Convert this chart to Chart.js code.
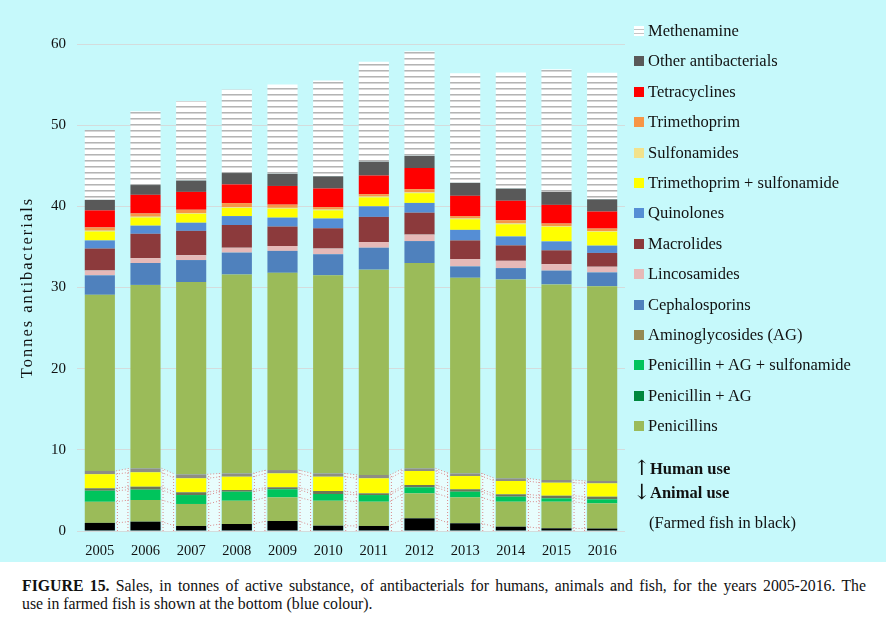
<!DOCTYPE html>
<html>
<head>
<meta charset="utf-8">
<script src="https://cdn.jsdelivr.net/npm/chart.js@4/dist/chart.umd.min.js"></script>
<style>
  html, body { margin: 0; padding: 0; background: #fff; }
  #wrap { position: relative; width: 886px; height: 628px; overflow: hidden; font-family: "Liberation Serif", "Times New Roman", serif; color: #111; }
  #panel { position: absolute; left: 0; top: 0; width: 886px; height: 562px; background: #c6f9fb; }
  #chart { position: absolute; left: 0; top: 0; }
  #legend { position: absolute; left: 634px; top: 0; }
  .item { position: absolute; left: 0; white-space: nowrap; font-size: 16.5px; line-height: 18px; }
  .box { display: inline-block; width: 10px; height: 10px; margin-right: 4px; vertical-align: 0px; }
  .note { position: absolute; white-space: nowrap; font-size: 16.5px; line-height: 18px; }
  .arrow { font-size: 21px; font-family: "DejaVu Serif", serif; }
  #caption { position: absolute; left: 22px; top: 577px; width: 844px; font-size: 15.8px; line-height: 18px; }
  #caption .l1 { display: block; text-align: justify; text-align-last: justify; white-space: nowrap; }
</style>
</head>
<body>
<div id="wrap">
  <div id="panel"></div>
  <canvas id="chart" width="886" height="562"></canvas>
  <div id="legend"></div>
  <div id="caption"><span class="l1"><b>FIGURE 15.</b> Sales, in tonnes of active substance, of antibacterials for humans, animals and fish, for the years 2005-2016. The</span>use in farmed fish is shown at the bottom (blue colour).</div>
</div>
<script>
var years = ["2005", "2006", "2007", "2008", "2009", "2010", "2011", "2012", "2013", "2014", "2015", "2016"];
var yTicks = [0, 10, 20, 30, 40, 50, 60];
var yTitle = "Tonnes antibacterials";

// animal use (bottom of each bar)
var fishFarmed        = [1.00, 1.15, 0.62, 0.86, 1.23, 0.65, 0.62, 1.56, 0.95, 0.53, 0.33, 0.30];
var animalPenicillins = [2.60, 2.67, 2.71, 2.87, 2.92, 3.08, 2.99, 3.08, 3.20, 3.08, 3.28, 3.11];
var animalPenAGSulf   = [1.36, 1.27, 1.10, 1.11, 0.99, 0.83, 0.82, 0.74, 0.69, 0.62, 0.41, 0.49];
var animalAG          = [0.30, 0.37, 0.34, 0.21, 0.24, 0.37, 0.21, 0.29, 0.30, 0.29, 0.33, 0.33];
var animalTrimSulf    = [1.74, 1.77, 1.72, 1.64, 1.72, 1.76, 1.85, 1.72, 1.63, 1.64, 1.60, 1.64];
var animalOther       = [0.40, 0.49, 0.49, 0.41, 0.41, 0.41, 0.41, 0.33, 0.33, 0.33, 0.33, 0.29];

// human use (stacked above)
var humanPenicillins  = [21.7, 22.6, 23.7, 24.5, 24.3, 24.4, 25.3, 25.3, 24.1, 24.5, 24.1, 24.0];
var cephalosporins    = [2.4, 2.7, 2.7, 2.7, 2.7, 2.6, 2.7, 2.7, 1.4, 1.4, 1.7, 1.7];
var lincosamides      = [0.6, 0.6, 0.6, 0.6, 0.6, 0.7, 0.7, 0.8, 0.9, 0.9, 0.8, 0.7];
var macrolides        = [2.7, 3.0, 3.0, 2.8, 2.4, 2.5, 3.1, 2.7, 2.3, 1.9, 1.7, 1.7];
var quinolones        = [1.0, 1.0, 1.0, 1.1, 1.1, 1.2, 1.3, 1.2, 1.3, 1.1, 1.1, 0.9];
var trimSulf          = [1.1, 1.0, 1.1, 1.0, 1.1, 1.0, 1.1, 1.2, 1.3, 1.5, 1.8, 1.7];
var sulfonamides      = [0.1, 0.1, 0.1, 0.1, 0.1, 0.1, 0.1, 0.1, 0.1, 0.1, 0.1, 0.1];
var trimethoprim      = [0.4, 0.4, 0.4, 0.5, 0.4, 0.3, 0.3, 0.4, 0.3, 0.4, 0.3, 0.3];
var tetracyclines     = [2.1, 2.3, 2.2, 2.3, 2.3, 2.3, 2.3, 2.6, 2.5, 2.4, 2.3, 2.1];
var otherAntibact     = [1.3, 1.2, 1.4, 1.4, 1.5, 1.5, 1.7, 1.5, 1.6, 1.5, 1.6, 1.5];
var methenamine       = [8.6, 9.1, 9.8, 10.3, 11.0, 11.8, 12.3, 12.9, 13.5, 14.3, 15.1, 15.6];

var col = {
  fish: "#000000", pen: "#9bbb59", penAG: "#00873d", penAGSulf: "#00c45c", ag: "#948a54",
  ceph: "#4f81bd", linc: "#e6b9b8", macro: "#8c3a3c", quin: "#558ed5", trimSulf: "#ffff00",
  sulf: "#f2e28c", trim: "#f79646", tetra: "#ff0000", other: "#595959"
};

function stripes() {
  var c = document.createElement("canvas");
  c.width = 4; c.height = 6;
  var g = c.getContext("2d");
  g.fillStyle = "#ffffff"; g.fillRect(0, 0, 4, 6);
  g.fillStyle = "#b4b4b4"; g.fillRect(0, 4, 4, 1);
  g.fillStyle = "#d6d6d6"; g.fillRect(0, 5, 4, 1);
  return c;
}
var methPattern = document.getElementById("chart").getContext("2d").createPattern(stripes(), "repeat");

function ds(label, data, color, animal) {
  return { label: label, data: data, backgroundColor: color, borderWidth: 0, stack: "s", animal: !!animal };
}

var datasets = [
  ds("Farmed fish", fishFarmed, col.fish, true),
  ds("Penicillins (animal)", animalPenicillins, col.pen, true),
  ds("Penicillin + AG + sulfonamide", animalPenAGSulf, col.penAGSulf, true),
  ds("Aminoglycosides (AG)", animalAG, "#6f7656", true),
  ds("Trimethoprim + sulfonamide (animal)", animalTrimSulf, col.trimSulf, true),
  ds("Other antibacterials (animal)", animalOther, "#8e8e84", true),
  ds("Penicillins", humanPenicillins, col.pen),
  ds("Cephalosporins", cephalosporins, col.ceph),
  ds("Lincosamides", lincosamides, col.linc),
  ds("Macrolides", macrolides, col.macro),
  ds("Quinolones", quinolones, col.quin),
  ds("Trimethoprim + sulfonamide", trimSulf, col.trimSulf),
  ds("Sulfonamides", sulfonamides, col.sulf),
  ds("Trimethoprim", trimethoprim, col.trim),
  ds("Tetracyclines", tetracyclines, col.tetra),
  ds("Other antibacterials", otherAntibact, col.other),
  ds("Methenamine", methenamine, methPattern)
];

// dotted "series lines" boxes between bars in the animal part
var seriesLines = {
  id: "seriesLines",
  beforeDatasetsDraw: function (chart) {
    var ctx = chart.ctx;
    var animalIdx = [];
    chart.data.datasets.forEach(function (d, i) { if (d.animal) animalIdx.push(i); });
    var topIdx = animalIdx[animalIdx.length - 1];
    var yBase = chart.scales.y.getPixelForValue(0);
    ctx.save();
    for (var i = 0; i < years.length - 1; i++) {
      var a = chart.getDatasetMeta(topIdx).data[i];
      var b = chart.getDatasetMeta(topIdx).data[i + 1];
      var r = a.x + a.width / 2 + 1, l = b.x - b.width / 2 - 1;
      ctx.fillStyle = "rgba(255,255,255,0.6)";
      ctx.beginPath();
      ctx.moveTo(r, yBase); ctx.lineTo(r, a.y); ctx.lineTo(l, b.y); ctx.lineTo(l, yBase);
      ctx.closePath(); ctx.fill();
      ctx.strokeStyle = "#d98a8a";
      ctx.lineWidth = 1;
      ctx.setLineDash([1, 2]);
      animalIdx.forEach(function (k) {
        var p = chart.getDatasetMeta(k).data[i], q = chart.getDatasetMeta(k).data[i + 1];
        ctx.beginPath(); ctx.moveTo(r, p.y); ctx.lineTo(l, q.y); ctx.stroke();
      });
      ctx.beginPath();
      ctx.moveTo(r + 1.5, yBase); ctx.lineTo(r + 1.5, a.y);
      ctx.moveTo(l - 1.5, yBase); ctx.lineTo(l - 1.5, b.y);
      ctx.stroke();
      ctx.setLineDash([]);
    }
    ctx.restore();
  }
};

// y axis title, drawn with a little letter spacing like the original
var axisTitle = {
  id: "axisTitle",
  afterDraw: function (chart) {
    var ctx = chart.ctx, y = chart.scales.y;
    ctx.save();
    ctx.translate(28, (y.top + y.bottom) / 2);
    ctx.rotate(-Math.PI / 2);
    ctx.font = "16.5px 'Liberation Serif'";
    if ("letterSpacing" in ctx) ctx.letterSpacing = "2px";
    ctx.fillStyle = "#111";
    ctx.textAlign = "center";
    ctx.textBaseline = "middle";
    ctx.fillText(yTitle, 0, 0);
    ctx.restore();
  }
};

new Chart(document.getElementById("chart"), {
  type: "bar",
  data: { labels: years, datasets: datasets },
  plugins: [seriesLines, axisTitle],
  options: {
    responsive: false,
    animation: false,
    layout: { padding: { top: 44, right: 261, left: 0, bottom: 0 } },
    plugins: { legend: { display: false }, tooltip: { enabled: false } },
    datasets: { bar: { categoryPercentage: 1, barPercentage: 0.66 } },
    scales: {
      x: {
        stacked: true,
        grid: { display: false },
        border: { display: false },
        ticks: { color: "#111", padding: 3, font: { family: "Liberation Serif", size: 14.5 } },
        afterFit: function (s) { s.height = 31; }
      },
      y: {
        stacked: true,
        min: 0, max: 60,
        afterBuildTicks: function (s) { s.ticks = yTicks.map(function (v) { return { value: v }; }); },
        grid: { color: "#d4dcdc", drawTicks: false },
        border: { display: false },
        ticks: { color: "#111", padding: 11, font: { family: "Liberation Serif", size: 15 } },
        afterFit: function (s) { s.width = 77; }
      }
    }
  }
});

// legend
var legendItems = [
  ["Methenamine", "meth"], ["Other antibacterials", col.other], ["Tetracyclines", col.tetra],
  ["Trimethoprim", col.trim], ["Sulfonamides", col.sulf], ["Trimethoprim + sulfonamide", col.trimSulf],
  ["Quinolones", col.quin], ["Macrolides", col.macro], ["Lincosamides", col.linc],
  ["Cephalosporins", col.ceph], ["Aminoglycosides (AG)", col.ag], ["Penicillin + AG + sulfonamide", col.penAGSulf],
  ["Penicillin + AG", col.penAG], ["Penicillins", col.pen]
];
var leg = document.getElementById("legend");
legendItems.forEach(function (it, i) {
  var d = document.createElement("div");
  d.className = "item";
  d.style.top = (22 + i * 30.4) + "px";
  var bx = document.createElement("span");
  bx.className = "box";
  if (it[1] === "meth") bx.style.background = "repeating-linear-gradient(#fff 0 3px, #c4c4c4 3px 4px)";
  else bx.style.background = it[1];
  d.appendChild(bx);
  d.appendChild(document.createTextNode(it[0]));
  leg.appendChild(d);
});
var notes = [
  ["\u2191", -1, 459, "arrow"], ["Human use", 16, 460, "bold"],
  ["\u2193", -1, 483, "arrow"], ["Animal use", 16, 484, "bold"],
  ["(Farmed fish in black)", 15, 514, ""]
];
notes.forEach(function (n) {
  var d = document.createElement("div");
  d.className = "note";
  d.style.left = n[1] + "px"; d.style.top = n[2] + "px";
  if (n[3] === "bold") d.style.fontWeight = "bold";
  if (n[3] === "arrow") d.className += " arrow";
  d.textContent = n[0];
  leg.appendChild(d);
});
</script>
</body>
</html>
